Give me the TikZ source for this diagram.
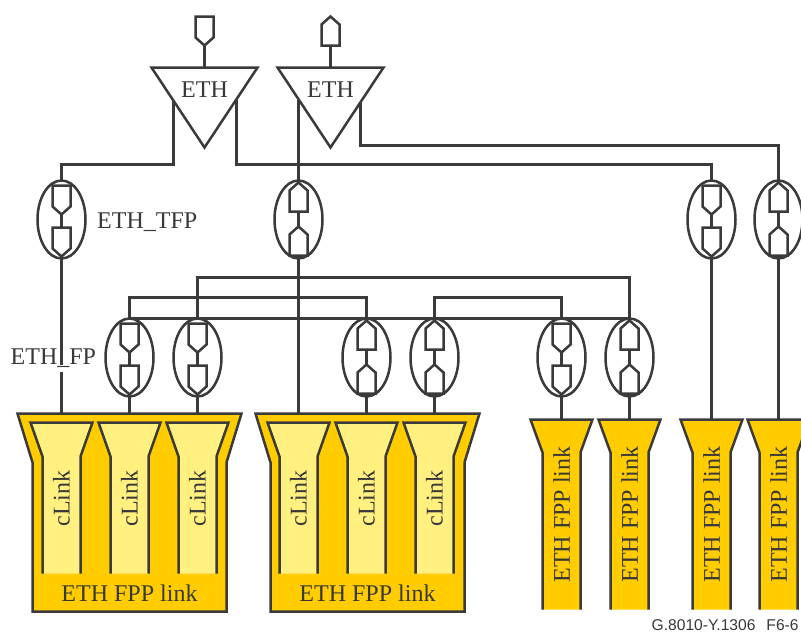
\documentclass[tikz,border=0pt]{standalone}
\usepackage{fontspec}
\setmainfont{Liberation Serif}
\newfontfamily\figfont{Liberation Sans}
\usetikzlibrary{shapes.geometric}
\definecolor{linecol}{HTML}{3A3A3A}
\definecolor{textcol}{HTML}{383838}
\definecolor{linkcol}{HTML}{FFCC00}
\definecolor{clinkcol}{HTML}{FFF080}
\tikzset{
  wire/.style={draw=linecol,line width=2.5pt},
  shape line/.style={draw=linecol,line width=2.5pt,line join=miter},
  fpoint/.style={shape=ellipse,shape line,inner sep=0pt,outer sep=0pt,minimum width=48pt,minimum height=78pt},
  lab/.style={text=textcol,font=\fontsize{24}{24}\selectfont,inner sep=0pt},
}
\newcommand{\portdown}[2]{\draw[shape line] (#1-9,#2) -- (#1+9,#2) -- (#1+9,#2+21) -- (#1,#2+29) -- (#1-9,#2+21) -- cycle;}
\newcommand{\portup}[2]{\draw[shape line] (#1-9,#2) -- (#1+9,#2) -- (#1+9,#2-21) -- (#1,#2-29) -- (#1-9,#2-21) -- cycle;}
\newcommand{\fpdown}[3]{
  \node[fpoint] (#1) at (#2,#3) {};
  \portdown{#2}{#3-34}
  \portdown{#2}{#3+8}
  \draw[wire] (#2,#3-5) -- (#2,#3+8);
}
\newcommand{\fpup}[3]{
  \node[fpoint] (#1) at (#2,#3) {};
  \portup{#2}{#3-8}
  \portup{#2}{#3+36}
  \draw[wire] (#2,#3-8) -- (#2,#3+7);
}
\newcommand{\ethtri}[2]{
  \draw[shape line] (#2-53,68) -- (#2+53,68) -- (#2,148) -- cycle;
  \node[lab] (#1) at (#2,90) {ETH};
}
\newcommand{\clink}[1]{
  \fill[clinkcol] (#1-31,423) -- (#1+31,423) -- (#1+19,457) -- (#1+19,574) -- (#1-19,574) -- (#1-19,457) -- cycle;
  \draw[shape line] (#1-19,574) -- (#1-19,457) -- (#1-31,423) -- (#1+31,423) -- (#1+19,457) -- (#1+19,574);
  \node[lab,rotate=90] (cl#1) at (#1,499) {cLink};
}
\newcommand{\grouplink}[2]{
  \draw[shape line,fill=linkcol] (#2-112,414) -- (#2+112,414) -- (#2+97,463) -- (#2+97,612) -- (#2-97,612) -- (#2-97,463) -- cycle;
  \coordinate (#1) at (#2,414);
  \node[lab] (#1txt) at (#2,594) {ETH FPP link};
}
\newcommand{\singlelink}[2]{
  \fill[linkcol] (#2-31,420) -- (#2+31,420) -- (#2+19,453) -- (#2+19,610) -- (#2-19,610) -- (#2-19,453) -- cycle;
  \draw[shape line] (#2-19,610) -- (#2-19,453) -- (#2-31,420) -- (#2+31,420) -- (#2+19,453) -- (#2+19,610);
  \coordinate (#1) at (#2,420);
  \node[lab,rotate=90] (#1txt) at (#2,515) {ETH FPP link};
}
\begin{document}
\begin{tikzpicture}[x=1pt,y=-1pt]
  \useasboundingbox[fill=white] (0,0) rectangle (801,632);
  \begin{scope}[shift={(0.5,-0.5)}]
  \portdown{204}{17}
  \portup{330}{46}
  \coordinate (portA) at (204,46);
  \coordinate (portB) at (330,46);
  \ethtri{ethA}{204}
  \ethtri{ethB}{330}
  \coordinate (ethAl) at (173,101);
  \coordinate (ethAr) at (236,100);
  \coordinate (ethBl) at (298,100);
  \coordinate (ethBr) at (360,103);
  \fpdown{fpA}{61}{220}
  \fpup{fpB}{298}{220}
  \fpdown{fpC}{711}{220}
  \fpup{fpD}{778}{220}
  \fpdown{fpE}{129}{358}
  \fpdown{fpF}{197}{358}
  \fpup{fpG}{366}{358}
  \fpup{fpH}{434}{358}
  \fpdown{fpI}{561}{358}
  \fpup{fpJ}{629}{358}
  \grouplink{grpA}{129}
  \grouplink{grpB}{367}
  \foreach \x in {61,129,197,298,366,434} {\clink{\x}}
  \singlelink{lnkA}{561}
  \singlelink{lnkB}{629}
  \singlelink{lnkC}{711}
  \singlelink{lnkD}{778}
  \draw[wire] (portA) -- (204,68);
  \draw[wire] (portB) -- (330,68);
  \draw[wire] (ethAl) -- ++(0,64) -| (fpA.north);
  \draw[wire] (ethAr) -- ++(0,65) -| (fpC.north);
  \draw[wire] (ethBl) -- (fpB.north);
  \draw[wire] (ethBr) -- ++(0,43) -| (fpD.north);
  \draw[wire] (fpF.north) -- ++(0,-41) -| (fpJ.north);
  \draw[wire] (fpE.north) -- ++(0,-21) -| (fpG.north);
  \draw[wire] (fpH.north) -- ++(0,-21) -| (fpI.north);
  \draw[wire] (fpE.north) -- (fpJ.north);
  \draw[wire] (fpA.south) -- (61,414);
  \draw[wire] (fpB.south) -- (298,414);
  \draw[wire] (fpE.south) -- (129,414);
  \draw[wire] (fpF.south) -- (197,414);
  \draw[wire] (fpG.south) -- (366,414);
  \draw[wire] (fpH.south) -- (434,414);
  \draw[wire] (fpI.south) -- (lnkA);
  \draw[wire] (fpJ.south) -- (lnkB);
  \draw[wire] (fpC.south) -- (lnkC);
  \draw[wire] (fpD.south) -- (lnkD);
  \fill[white] (57,365.5) rectangle (69,372);
  \end{scope}
  \node[lab,anchor=base west] (tfp) at (97,228) {ETH\_TFP};
  \node[lab,anchor=base west] (fp) at (10.5,364) {ETH\_FP};
  \node[text=textcol,font=\figfont\fontsize{15.6}{16}\selectfont,inner sep=0pt,anchor=base west] (figno) at (651.5,630) {G.8010-Y.1306\hspace{11pt}F6-6};
\end{tikzpicture}
\end{document}
